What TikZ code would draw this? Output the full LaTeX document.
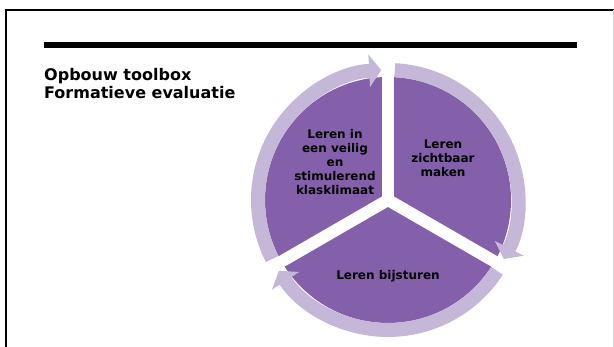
\documentclass[tikz,border=0pt]{standalone}
\usepackage{fontspec}
\setmainfont{DejaVu Sans}
\usetikzlibrary{arrows.meta}
\definecolor{piepurple}{RGB}{132,96,171}
\definecolor{ringlilac}{RGB}{196,183,215}
\begin{document}
\begin{tikzpicture}[x=1pt,y=1pt,
	titletext/.style={anchor=base west, inner sep=0pt, font=\fontsize{16}{19}\selectfont\bfseries},
	sectorlabel/.style={align=center, inner sep=0pt, font=\fontsize{12}{14}\selectfont\bfseries},
	cyclearrow/.style={ringlilac, line width=14pt, -{Triangle[length=12pt,width=32pt]}},
	gapband/.style={white, line width=12pt}]
	
	\useasboundingbox (0,0) rectangle (614,347);
	\clip (0,0) rectangle (614,347);
	
	%The frame
	\draw[line width=2pt] (6,-2) -- (6,337) -- (616,337);
	\draw[black!15, line width=1pt] (613,337) -- (613,-2);
	
	%The bar
	\fill (44,299) rectangle (577,305);
	
	\node[titletext] (title1) at (44,266) {Opbouw toolbox};
	\node[titletext] (title2) at (44,248) {Formatieve evaluatie};
	
	\coordinate (c) at (388,147);
	
	%The pie
	\fill[piepurple] (c) circle[radius=123];
	
	%The arrows round the pie
	\draw[cyclearrow] ([shift={(87:130)}]c) arc[start angle=87, end angle=-27, radius=130];
	\draw[cyclearrow] ([shift={(-33:130)}]c) arc[start angle=-33, end angle=-147, radius=130];
	\draw[cyclearrow] ([shift={(207:130)}]c) arc[start angle=207, end angle=93, radius=130];
	
	%The gaps between the sectors
	\draw[gapband] (c) -- ++(90:126);
	\draw[gapband] (c) -- ++(-30:126);
	\draw[gapband] (c) -- ++(210:126);
	
	\node[sectorlabel] (climate) at (335,185) {Leren in\\een veilig\\en\\stimulerend\\klasklimaat};
	\node[sectorlabel] (visible) at (443,189) {Leren\\zichtbaar\\maken};
	\node[sectorlabel] (steer) at (388,71) {Leren bijsturen};
	
\end{tikzpicture}
\end{document}
